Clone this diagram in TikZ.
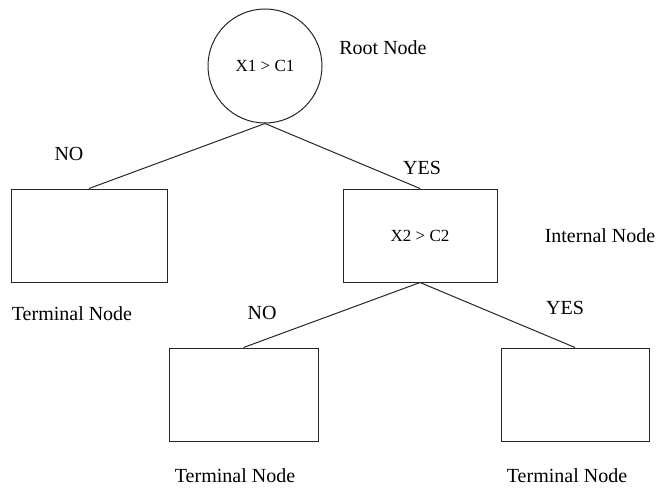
\documentclass[tikz,border=0pt]{standalone}
\usepackage{fontspec}
\setmainfont{Liberation Serif}
\begin{document}
\begin{tikzpicture}[x=1pt,y=-1pt,
  edge/.style={draw=black!85,line width=1pt},
  boxnode/.style={draw=black!85,line width=1pt,minimum height=93pt,inner sep=0pt,font=\fontsize{17}{20}\selectfont},
  lbl/.style={inner sep=0pt,font=\fontsize{20}{24}\selectfont}]
\useasboundingbox (0,0) rectangle (660,487);
\node[circle,draw=black!85,line width=1pt,minimum size=114pt,inner sep=0pt,font=\fontsize{17}{20}\selectfont] (root) at (265,66) {X1 > C1};
\node[boxnode,minimum width=156pt] (lbox) at (89,235.5) {};
\node[boxnode,minimum width=154pt] (ibox) at (420,235.5) {X2 > C2};
\node[boxnode,minimum width=149pt] (bl) at (243.5,394.5) {};
\node[boxnode,minimum width=148pt] (br) at (575,394.5) {};
\draw[edge] (root.south) -- (lbox.north);
\draw[edge] (root.south) -- (ibox.north);
\draw[edge] (ibox.south) -- (bl.north);
\draw[edge] (ibox.south) -- (br.north);
\node[lbl] (rootlbl) at (383,48) {Root Node};
\node[lbl] (no1) at (69,154) {NO};
\node[lbl] (yes1) at (422,168) {YES};
\node[lbl] (intlbl) at (600,236) {Internal Node};
\node[lbl] (term1) at (72,314) {Terminal Node};
\node[lbl] (no2) at (262,313) {NO};
\node[lbl] (yes2) at (565,308) {YES};
\node[lbl] (term2) at (235,476) {Terminal Node};
\node[lbl] (term3) at (567,476) {Terminal Node};
\end{tikzpicture}
\end{document}
